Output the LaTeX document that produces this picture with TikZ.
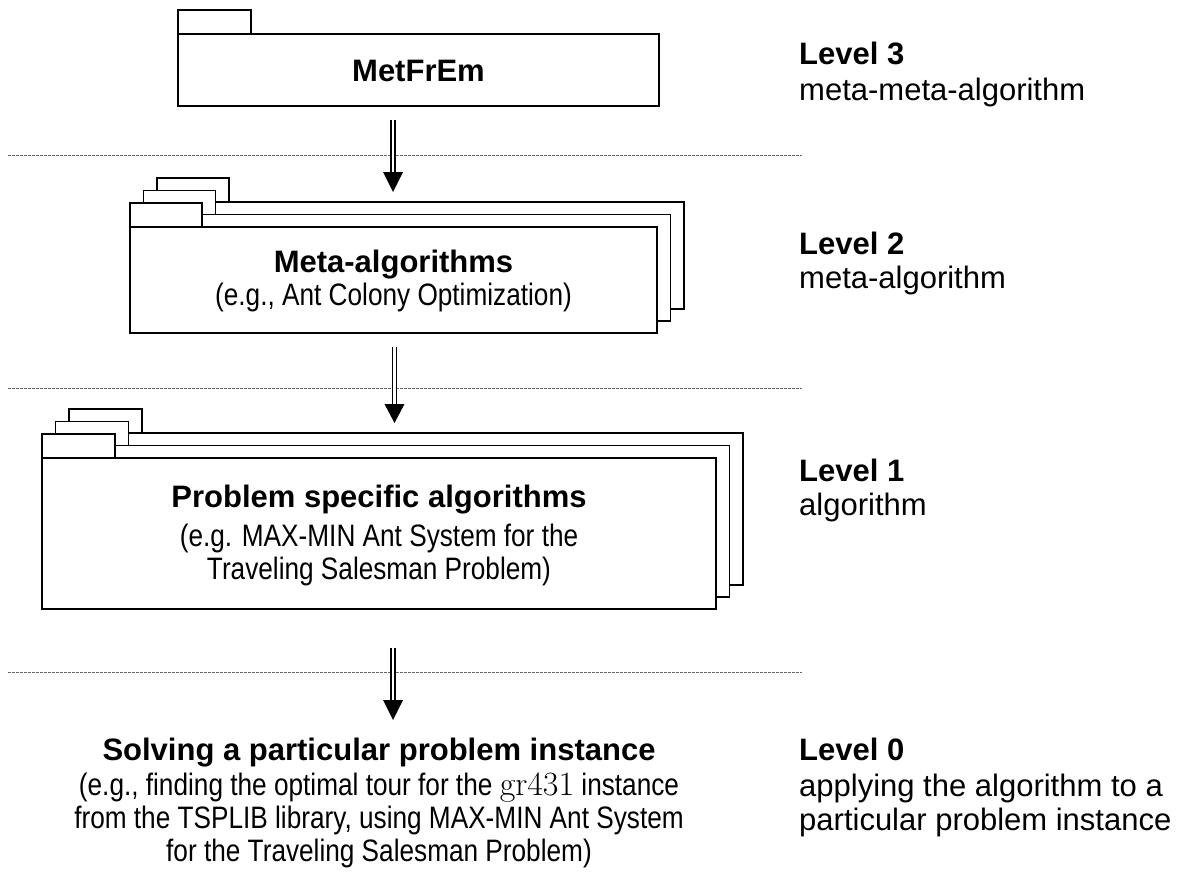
\documentclass[tikz,border=0pt]{standalone}
\usepackage{fontspec}
\newfontfamily\arial{Liberation Sans}
\newfontfamily\arialn{Liberation Sans}[FakeStretch=0.845]
\newcommand\folderbox[7]{% name, x1, y1(top of body), x2, y2, tab width, tab height
  \draw[pk] (#2,#3-#7) rectangle (#2+#6,#3);
  \draw[pk] (#2,#3) rectangle (#4,#5);
  \coordinate (#1) at (#2,#3);}
\begin{document}
\begin{tikzpicture}[x=1pt,y=-1pt,
  pk/.style={draw=black,line width=1.6pt,fill=white},
  ttl/.style={font=\arial\bfseries\fontsize{31}{34}\selectfont,inner sep=0pt,anchor=base},
  subt/.style={font=\arialn\fontsize{31}{33}\selectfont,inner sep=0pt,anchor=base},
  lvl/.style={font=\arial\bfseries\fontsize{31}{34}\selectfont,inner sep=0pt,anchor=base west},
  lvd/.style={font=\arial\fontsize{31}{34}\selectfont,inner sep=0pt,anchor=base west},
  sepline/.style={draw=black!60,line width=1pt,dash pattern=on 2.5pt off 1.5pt},
  shaft/.style={draw=black,line width=1.4pt,double=white,double distance=2.6pt},
  headfill/.style={fill=black}
]
\useasboundingbox (0,0) rectangle (1200,878);

% separators
\coordinate (s1a) at (8,155);  \coordinate (s1b) at (802,155);
\coordinate (s2a) at (8,388);  \coordinate (s2b) at (802,388);
\coordinate (s3a) at (8,672);  \coordinate (s3b) at (802,672);
\draw[sepline] (s1a) -- (s1b);
\draw[sepline] (s2a) -- (s2b);
\draw[sepline] (s3a) -- (s3b);

% Level 3
\folderbox{b3}{178}{34}{659}{106}{73}{24}
\node[ttl] (t3) at (418.5,81) {MetFrEm};

% Level 2
\folderbox{b2c}{157}{202}{684}{309}{72}{24}
\folderbox{b2b}{143.5}{214.5}{670.5}{321}{72}{24}
\folderbox{b2a}{130}{227}{657}{333}{72}{24}
\node[ttl] (t2) at (393.5,272) {Meta-algorithms};
\node[subt] (t2s) at (393.5,305) {(e.g., Ant Colony Optimization)};

% Level 1
\folderbox{b1c}{69}{433}{743}{585}{73}{24}
\folderbox{b1b}{55.5}{445.5}{729.5}{597}{73}{24}
\folderbox{b1a}{42}{458}{716}{609}{73}{24}
\node[ttl] (t1) at (379,507) {Problem specific algorithms};
\node[subt] (t1s) at (379,546) {(e.g. MAX-MIN Ant System for the};
\node[subt] (t1t) at (379,579) {Traveling Salesman Problem)};

% Level 0
\node[ttl] (t0) at (379,760) {Solving a particular problem instance};
\node[subt] (t0s) at (379,795) {(e.g., finding the optimal tour for the {\rmfamily\fontsize{34}{34}\selectfont gr431} instance};
\node[subt] (t0t) at (379,828) {from the TSPLIB library, using MAX-MIN Ant System};
\node[subt] (t0u) at (379,861) {for the Traveling Salesman Problem)};

% arrows
\coordinate (a1s) at (393,120); \coordinate (a1m) at (393,172); \coordinate (a1e) at (393,192);
\coordinate (a2s) at (394.5,347); \coordinate (a2m) at (394.5,404); \coordinate (a2e) at (394.5,423);
\coordinate (a3s) at (393,648); \coordinate (a3m) at (393,700); \coordinate (a3e) at (393,720);
\foreach \a in {a1,a2,a3}{
  \draw[shaft] (\a s) -- ([yshift=-1pt]\a m);
  \fill[headfill] ([xshift=-10pt]\a m) -- ([xshift=10pt]\a m) -- (\a e) -- cycle;
}

% level labels
\node[lvl] (l3a) at (799,64) {Level 3};
\node[lvd] (l3b) at (799,100) {meta-meta-algorithm};
\node[lvl] (l2a) at (799,254) {Level 2};
\node[lvd] (l2b) at (799,288) {meta-algorithm};
\node[lvl] (l1a) at (799,481) {Level 1};
\node[lvd] (l1b) at (799,515) {algorithm};
\node[lvl] (l0a) at (799,760) {Level 0};
\node[lvd] (l0b) at (799,796) {applying the algorithm to a};
\node[lvd] (l0c) at (799,830) {particular problem instance};
\end{tikzpicture}
\end{document}
